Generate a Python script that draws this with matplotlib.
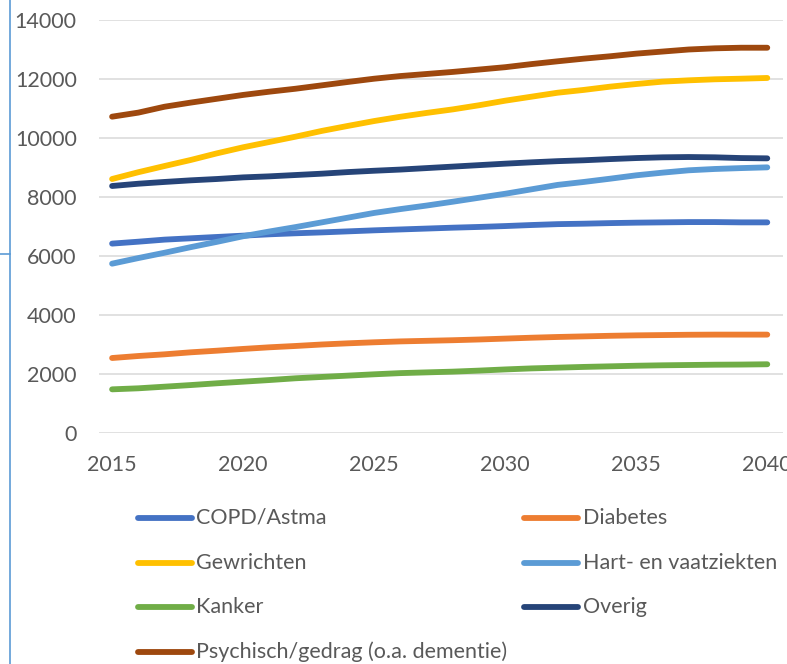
import matplotlib
matplotlib.use("Agg")
import matplotlib.pyplot as plt
from matplotlib.lines import Line2D

years = list(range(2015, 2041))

copd = [6420, 6485, 6555, 6600, 6645, 6690, 6735, 6770, 6800, 6835, 6870, 6900, 6930, 6960,
        6985, 7015, 7050, 7080, 7095, 7115, 7130, 7140, 7150, 7150, 7140, 7140]
diabetes = [2542, 2610, 2667, 2735, 2790, 2850, 2905, 2950, 3000, 3040, 3075, 3105, 3125, 3145,
            3170, 3200, 3230, 3255, 3275, 3295, 3310, 3320, 3330, 3335, 3335, 3335]
gewrichten = [8610, 8840, 9050, 9255, 9480, 9685, 9865, 10045, 10240, 10410, 10575, 10720, 10850, 10970,
              11110, 11265, 11400, 11535, 11630, 11740, 11830, 11910, 11955, 11990, 12010, 12035]
hart = [5740, 5930, 6110, 6300, 6480, 6670, 6830, 6980, 7140, 7300, 7460, 7590, 7710, 7840,
        7975, 8110, 8260, 8410, 8510, 8620, 8735, 8825, 8905, 8950, 8980, 9005]
kanker = [1480, 1515, 1570, 1625, 1685, 1740, 1795, 1855, 1900, 1945, 1990, 2030, 2055, 2080,
          2115, 2155, 2190, 2215, 2240, 2260, 2280, 2295, 2305, 2315, 2320, 2330]
overig = [8373, 8450, 8510, 8565, 8610, 8665, 8700, 8745, 8790, 8845, 8890, 8930, 8980, 9030,
          9080, 9130, 9175, 9215, 9245, 9285, 9320, 9345, 9355, 9345, 9320, 9310]
psychisch = [10723, 10860, 11060, 11200, 11330, 11460, 11570, 11670, 11785, 11900, 12010, 12100, 12170, 12240,
             12320, 12400, 12505, 12600, 12690, 12770, 12860, 12930, 13000, 13040, 13060, 13060]

series_names = ["COPD/Astma", "Diabetes", "Gewrichten", "Hart- en vaatziekten",
                "Kanker", "Overig", "Psychisch/gedrag (o.a. dementie)"]
series_values = [copd, diabetes, gewrichten, hart, kanker, overig, psychisch]
colors = ["#4472C4", "#ED7D31", "#FFC000", "#5B9BD5", "#70AD47", "#264478", "#9E480E"]

yticks = [0, 2000, 4000, 6000, 8000, 10000, 12000, 14000]
xtick_labels = [2015, 2020, 2025, 2030, 2035, 2040]

W, H = 787, 664
fig = plt.figure(figsize=(W / 100, H / 100), dpi=100)
FONT = "Lato"
TXT = "#595959"
FS = 15.5
LW = 4.2

left, right, top, bottom = 99, 783, 20, 433
ax = fig.add_axes([left / W, 1 - bottom / H, (right - left) / W, (bottom - top) / H])

for name, vals, c in zip(series_names, series_values, colors):
    ax.plot(years, vals, color=c, lw=LW, solid_capstyle="round", solid_joinstyle="round", zorder=3)

ax.set_ylim(0, 14000)
ax.set_xlim(2014.5, 2040.6)
ax.set_yticks(yticks)
ax.set_xticks(xtick_labels)
ax.set_xticklabels([str(v) for v in xtick_labels])
ax.grid(axis="y", color="#D9D9D9", lw=1.1, zorder=0)
ax.set_axisbelow(True)
for s in ["top", "right", "left", "bottom"]:
    ax.spines[s].set_visible(False)
ax.tick_params(axis="both", length=0, labelsize=FS, colors=TXT)
ax.tick_params(axis="y", pad=16)
ax.tick_params(axis="x", pad=16)
for lab in ax.get_xticklabels() + ax.get_yticklabels():
    lab.set_fontfamily(FONT)
    lab.set_clip_on(False)

# legend (row-major order, two columns)
col_x = [(138, 192, 196), (524, 578, 583)]
row_y = [518, 563, 607, 652]
for i, (name, c) in enumerate(zip(series_names, colors)):
    r, col = divmod(i, 2)
    x0, x1, xt = col_x[col]
    y = 1 - row_y[r] / H
    fig.add_artist(Line2D([x0 / W, x1 / W], [y, y], color=c, lw=LW, solid_capstyle="round"))
    fig.text(xt / W, y, name, ha="left", va="center", fontsize=FS, color=TXT, fontfamily=FONT)

# decorative border lines at left
fig.add_artist(Line2D([10 / W, 10 / W], [0, 1], color="#5B9BD5", lw=1.2))
fig.add_artist(Line2D([0, 10 / W], [1 - 254 / H, 1 - 254 / H], color="#5B9BD5", lw=1.2))

fig.savefig("out.png", dpi=100)
